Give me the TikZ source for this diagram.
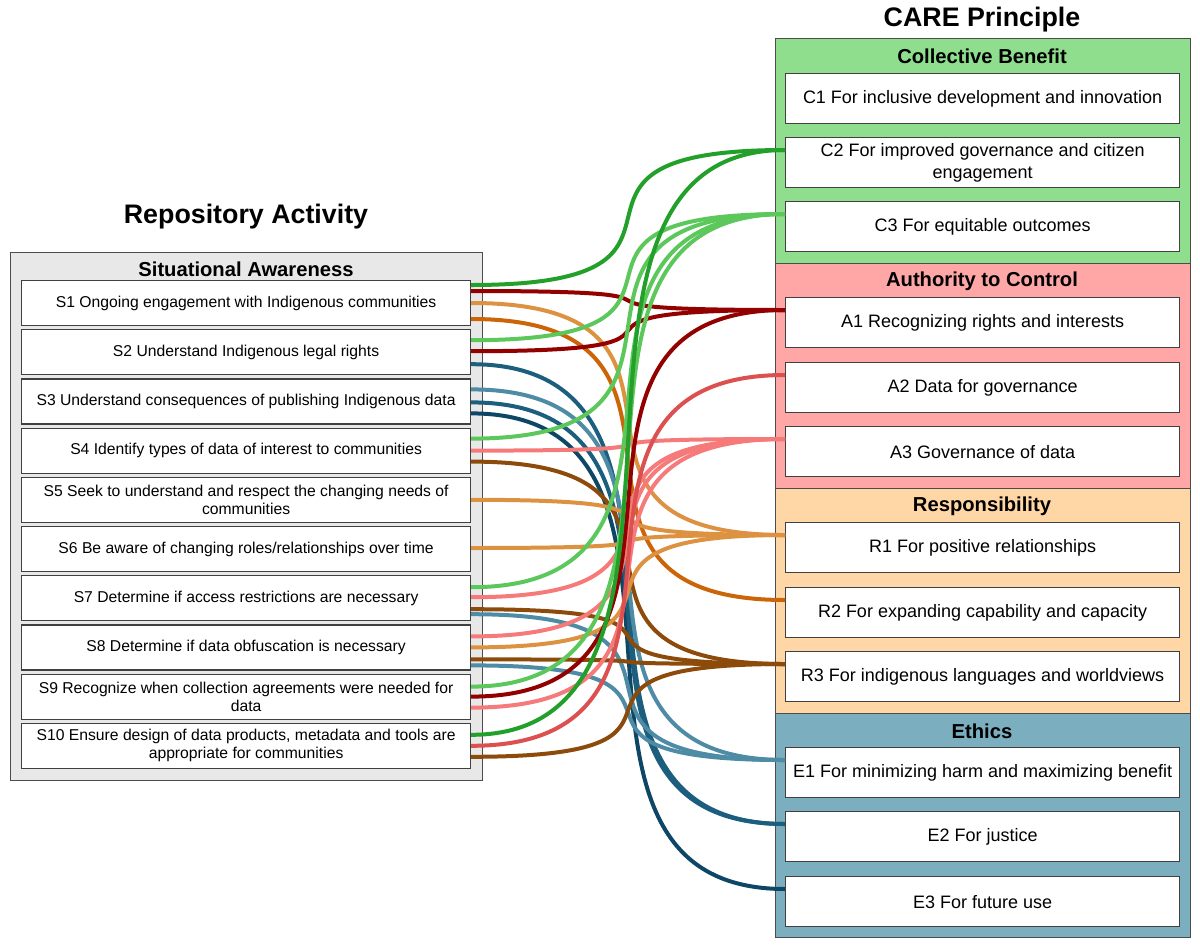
\documentclass[tikz,border=0pt]{standalone}
\usepackage{fontspec}
\setmainfont{Liberation Sans}
\usetikzlibrary{calc}
\definecolor{cC2}{HTML}{22A02A}
\definecolor{cC3}{HTML}{5CC85C}
\definecolor{cA1}{HTML}{920000}
\definecolor{cA2}{HTML}{DC5050}
\definecolor{cA3}{HTML}{F77A7A}
\definecolor{cR1}{HTML}{DD9242}
\definecolor{cR2}{HTML}{CC6408}
\definecolor{cR3}{HTML}{8C4B0A}
\definecolor{cE1}{HTML}{4E8BA5}
\definecolor{cE2}{HTML}{1C5E7E}
\definecolor{cE3}{HTML}{0E4766}
\definecolor{fG}{HTML}{8EDE8E}
\definecolor{fP}{HTML}{FFA6A6}
\definecolor{fO}{HTML}{FFD6A5}
\definecolor{fT}{HTML}{7BAFC0}
\definecolor{fL}{HTML}{E8E8E8}
\newcommand\lnk[4]{\draw[link,color=#1] ($(#2.north east)+(0,#3)$) .. controls +(280,0) and +(-280,0) .. ($(#4.north west)+(0,13)$);}
\begin{document}
\begin{tikzpicture}[x=1pt,y=-1pt,
  sec/.style={draw=black!70, line width=1.2pt, anchor=north west, inner sep=0},
  litem/.style={draw=black!75, fill=white, line width=1.2pt, anchor=north west, minimum width=449pt, minimum height=45pt, inner sep=0, align=center, font=\fontsize{15.7}{18}\selectfont},
  ritem/.style={draw=black!75, fill=white, line width=1.2pt, anchor=north west, minimum width=394pt, minimum height=50pt, inner sep=0, align=center, font=\fontsize{18}{22}\selectfont},
  head/.style={font=\bfseries\fontsize{20.2}{22}\selectfont},
  title/.style={font=\bfseries\fontsize{26.8}{30}\selectfont},
  link/.style={line width=4pt}]
\useasboundingbox (0,0) rectangle (1200,948);
% titles
\node[title] (tR) at (246,217) {Repository Activity};
\node[title] (tC) at (982,20) {CARE Principle};
% left group
\node[sec, fill=fL, minimum width=472pt, minimum height=528pt] (SA) at (10,252) {};
\node[head] (hSA) at (246,269) {Situational Awareness};
\node[litem] (S1) at (21,280) {S1 Ongoing engagement with Indigenous communities};
\node[litem] (S2) at (21,329.2) {S2 Understand Indigenous legal rights};
\node[litem] (S3) at (21,378.4) {S3 Understand consequences of publishing Indigenous data};
\node[litem] (S4) at (21,427.6) {S4 Identify types of data of interest to communities};
\node[litem] (S5) at (21,476.8) {S5 Seek to understand and respect the changing needs of\\communities};
\node[litem] (S6) at (21,526) {S6 Be aware of changing roles/relationships over time};
\node[litem] (S7) at (21,575.2) {S7 Determine if access restrictions are necessary};
\node[litem] (S8) at (21,624.4) {S8 Determine if data obfuscation is necessary};
\node[litem] (S9) at (21,673.6) {S9 Recognize when collection agreements were needed for\\data};
\node[litem] (S10) at (21,722.8) {S10 Ensure design of data products, metadata and tools are\\appropriate for communities};
% right groups
\node[sec, fill=fG, minimum width=415pt, minimum height=225pt] (CB) at (775,38) {};
\node[sec, fill=fP, minimum width=415pt, minimum height=225pt] (AC) at (775,263) {};
\node[sec, fill=fO, minimum width=415pt, minimum height=225pt] (RS) at (775,488) {};
\node[sec, fill=fT, minimum width=415pt, minimum height=224pt] (ET) at (775,713) {};
\node[head] (hCB) at (982,56) {Collective Benefit};
\node[head] (hAC) at (982,281) {Authority to Control};
\node[head] (hRS) at (982,506) {Responsibility};
\node[head] (hET) at (982,731) {Ethics};
\node[ritem] (C1) at (785,73) {C1 For inclusive development and innovation};
\node[ritem] (C2) at (785,137) {C2 For improved governance and citizen\\engagement};
\node[ritem] (C3) at (785,201) {C3 For equitable outcomes};
\node[ritem] (A1) at (785,297) {A1 Recognizing rights and interests};
\node[ritem] (A2) at (785,362) {A2 Data for governance};
\node[ritem] (A3) at (785,426) {A3 Governance of data};
\node[ritem] (R1) at (785,522) {R1 For positive relationships};
\node[ritem] (R2) at (785,587) {R2 For expanding capability and capacity};
\node[ritem] (R3) at (785,651) {R3 For indigenous languages and worldviews};
\node[ritem] (E1) at (785,747) {E1 For minimizing harm and maximizing benefit};
\node[ritem] (E2) at (785,811) {E2 For justice};
\node[ritem] (E3) at (785,876) {E3 For future use};
% links
\lnk{cE3}{S3}{35}{E3}
\lnk{cE2}{S2}{35}{E2}
\lnk{cE2}{S3}{24}{E2}
\lnk{cE1}{S3}{11}{E1}
\lnk{cE1}{S7}{39}{E1}
\lnk{cE1}{S8}{41}{E1}
\lnk{cR3}{S4}{34}{R3}
\lnk{cR3}{S7}{34}{R3}
\lnk{cR3}{S8}{35}{R3}
\lnk{cR3}{S10}{34}{R3}
\lnk{cR2}{S1}{39}{R2}
\lnk{cR1}{S1}{23}{R1}
\lnk{cR1}{S5}{23}{R1}
\lnk{cR1}{S6}{22}{R1}
\lnk{cR1}{S8}{23}{R1}
\lnk{cA3}{S4}{23}{A3}
\lnk{cA3}{S7}{22}{A3}
\lnk{cA3}{S8}{12}{A3}
\lnk{cA3}{S9}{34}{A3}
\lnk{cA2}{S10}{23}{A2}
\lnk{cA1}{S1}{11}{A1}
\lnk{cA1}{S2}{22}{A1}
\lnk{cA1}{S9}{23}{A1}
\lnk{cC3}{S2}{11}{C3}
\lnk{cC3}{S4}{11}{C3}
\lnk{cC3}{S7}{12}{C3}
\lnk{cC3}{S9}{13}{C3}
\lnk{cC2}{S1}{5}{C2}
\lnk{cC2}{S10}{12}{C2}
\end{tikzpicture}
\end{document}
